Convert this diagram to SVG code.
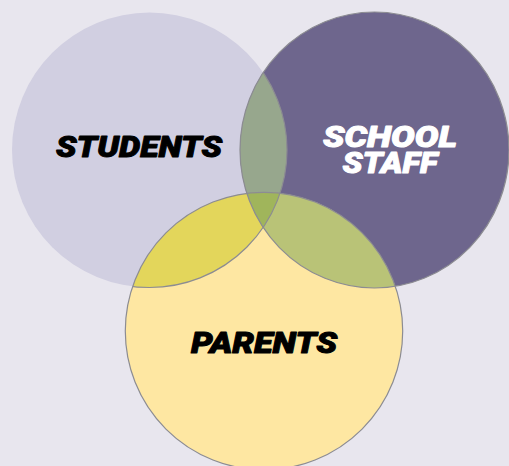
<svg xmlns="http://www.w3.org/2000/svg" width="509" height="466" viewBox="0 0 509 466">
  <style>
    .lbl { font-family: "Roboto", "Liberation Sans", "DejaVu Sans", sans-serif; font-weight: 900; font-style: italic; font-size: 30px; text-anchor: middle; stroke-width: 1; stroke-linejoin: round; }
    .dark { fill: #000000; stroke: #000000; }
    .light { fill: #FFFFFF; stroke: #FFFFFF; }
    .edge { fill: none; stroke: #8C8C92; stroke-width: 1.2; }
  </style>
  <defs>
    <clipPath id="cS"><circle cx="149.5" cy="150" r="137.5"/></clipPath>
    <clipPath id="cT"><ellipse cx="374.5" cy="150" rx="134.5" ry="138"/></clipPath>
    <clipPath id="cP"><circle cx="264" cy="331" r="138.7"/></clipPath>
    <clipPath id="cTP">
      <ellipse cx="374.5" cy="150" rx="134.5" ry="138"/>
      <circle cx="264" cy="331" r="138.7"/>
    </clipPath>
  </defs>
  <rect width="509" height="466" fill="#E8E6EE"/>

  <g id="students">
    <circle cx="149.5" cy="150" r="137.5" fill="#D1CFE1"/>
  </g>
  <g id="staff">
    <ellipse cx="374.5" cy="150" rx="134.5" ry="138" fill="#6E668D"/>
  </g>
  <g id="parents">
    <circle cx="264" cy="331" r="138.7" fill="#FEE7A2"/>
  </g>

  <g id="overlaps">
    <ellipse cx="374.5" cy="150" rx="134.5" ry="138" fill="#97A78D" clip-path="url(#cS)"/>
    <circle cx="264" cy="331" r="138.7" fill="#E3D65B" clip-path="url(#cS)"/>
    <circle cx="264" cy="331" r="138.7" fill="#B9C377" clip-path="url(#cT)"/>
    <g clip-path="url(#cS)">
      <circle cx="264" cy="331" r="138.7" fill="#A0B55B" clip-path="url(#cT)"/>
    </g>
  </g>

  <g id="outlines">
    <circle class="edge" cx="149.5" cy="150" r="137.5" clip-path="url(#cTP)"/>
    <ellipse class="edge" cx="374.5" cy="150" rx="134.5" ry="138"/>
    <circle class="edge" cx="264" cy="331" r="138.7"/>
  </g>

  <g id="labels">
    <text class="lbl dark" x="139" y="157" textLength="166" lengthAdjust="spacingAndGlyphs">STUDENTS</text>
    <text class="lbl light" x="390" y="146.5" textLength="134" lengthAdjust="spacingAndGlyphs">SCHOOL</text>
    <text class="lbl light" x="390" y="173" textLength="95" lengthAdjust="spacingAndGlyphs">STAFF</text>
    <text class="lbl dark" x="264" y="353" textLength="146" lengthAdjust="spacingAndGlyphs">PARENTS</text>
  </g>
</svg>
